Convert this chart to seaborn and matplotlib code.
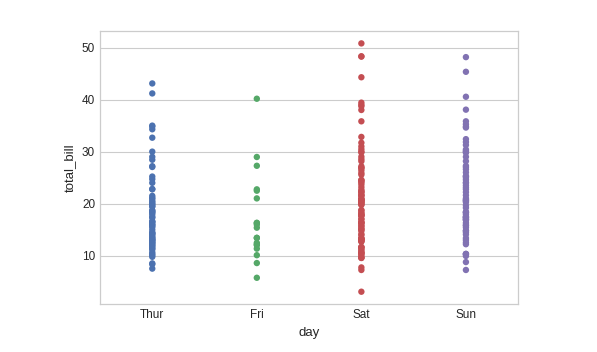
import matplotlib
matplotlib.use("Agg")
import matplotlib.pyplot as plt
import seaborn as sns
import pandas as pd

# total_bill values, per day
thur = [43.11, 41.19, 35.00, 34.83, 34.30, 32.68, 30.00, 29.00, 28.44, 27.20, 27.05,
        25.21, 24.71, 24.00, 22.82, 22.76, 21.16, 20.92, 20.53, 20.27, 19.81, 19.44,
        19.49, 18.71, 18.64, 18.35, 18.28, 17.92, 17.47, 17.29, 16.66, 16.47, 16.43,
        16.00, 15.98, 15.69, 15.48, 14.52, 14.31, 14.26, 14.07, 13.81, 13.51, 13.42,
        13.16, 13.03, 13.00, 12.74, 12.60, 12.43, 12.26, 12.03, 11.87, 11.38, 11.17,
        10.65, 10.34, 10.07, 9.78, 8.52, 8.35, 7.51, 21.50, 20.00, 15.00, 11.60]
fri = [40.17, 28.97, 27.28, 22.75, 22.49, 21.01, 16.32, 16.27, 15.98, 15.38, 13.42,
       13.42, 12.46, 12.16, 12.03, 11.35, 10.09, 8.58, 5.75]
sat = [50.81, 48.33, 48.27, 44.30, 39.42, 39.00, 38.73, 38.01, 35.83, 32.83, 31.71,
       30.46, 29.85, 29.03, 28.55, 28.15, 27.18, 26.88, 26.86, 26.41, 25.89, 25.56,
       24.55, 24.52, 24.27, 24.06, 23.68, 23.17, 22.67, 22.42, 22.23, 22.12, 21.70,
       21.58, 21.50, 21.01, 20.90, 20.76, 20.69, 20.65, 20.45, 20.29, 20.23, 20.08,
       19.82, 19.77, 18.78, 18.69, 18.29, 18.15, 17.82, 17.81, 17.78, 17.59, 17.07,
       16.97, 16.45, 16.40, 16.31, 16.21, 15.81, 15.69, 15.36, 15.06, 15.04, 14.73,
       14.15, 13.94, 13.39, 13.28, 13.27, 13.13, 13.00, 12.90, 12.76, 12.69, 11.69,
       11.61, 11.59, 11.24, 11.02, 10.63, 10.59, 10.51, 10.27, 10.07, 9.68, 9.60,
       9.55, 7.74, 7.25, 3.07, 30.00, 31.00]
sun = [48.17, 45.35, 40.55, 38.07, 35.83, 35.26, 34.81, 34.63, 32.40, 31.85, 31.27,
       30.40, 30.14, 29.93, 29.80, 28.17, 27.28, 26.59, 25.29, 25.28, 25.00, 24.59,
       24.08, 23.95, 23.10, 22.75, 21.01, 20.76, 20.65, 20.49, 20.29, 19.65, 18.43,
       18.35, 18.24, 17.92, 17.51, 17.46, 17.31, 17.26, 16.99, 16.93, 16.82, 16.29,
       15.77, 15.42, 14.83, 14.78, 14.48, 14.07, 13.37, 12.54, 12.20, 10.34, 10.33,
       10.29, 9.94, 8.77, 7.25, 27.00, 26.00, 23.50, 22.20, 21.60, 19.20, 13.00,
       15.90, 29.00]

days = ["Thur", "Fri", "Sat", "Sun"]
colors = ["#4C72B0", "#55A868", "#C44E52", "#8172B2"]

tips = pd.DataFrame({
    "day": ["Thur"] * len(thur) + ["Fri"] * len(fri) + ["Sat"] * len(sat) + ["Sun"] * len(sun),
    "total_bill": thur + fri + sat + sun,
})

sns.set_style("whitegrid", {"axes.edgecolor": ".8", "grid.color": ".8",
                            "text.color": ".15", "axes.labelcolor": ".15",
                            "xtick.color": ".15", "ytick.color": ".15"})
plt.rcParams["font.family"] = ["Liberation Sans", "DejaVu Sans"]

fig, ax = plt.subplots(figsize=(5.97, 3.52), dpi=100)
sns.stripplot(data=tips, x="day", y="total_bill", hue="day", order=days,
              hue_order=days, palette=colors, jitter=False, size=4.6,
              legend=False, ax=ax)
ax.set_yticks([10, 20, 30, 40, 50])
ax.tick_params(labelsize=8.5, length=0)
ax.set_xlabel("day", fontsize=9.5)
ax.set_ylabel("total_bill", fontsize=9.5)
for s in ax.spines.values():
    s.set_linewidth(0.9)
fig.subplots_adjust(left=0.1675, right=0.868, top=0.912, bottom=0.136)
fig.savefig("out.png", dpi=100)
